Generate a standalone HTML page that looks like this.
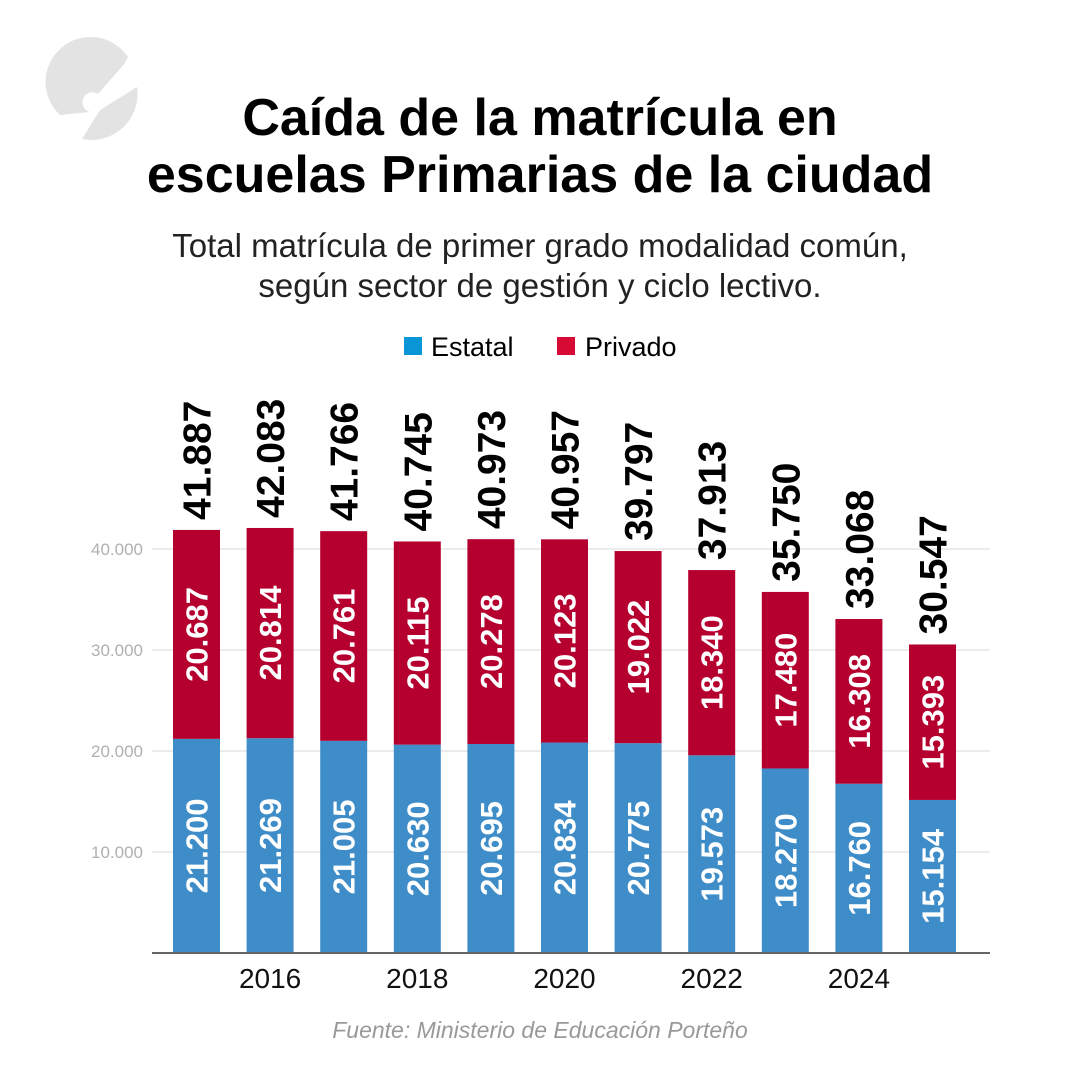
<!DOCTYPE html>
<html><head><meta charset="utf-8"><style>
html,body{margin:0;padding:0;background:#fff}
svg{display:block;font-family:"Liberation Sans",sans-serif}
</style></head><body>
<svg id="c" width="1081" height="1081" viewBox="0 0 1081 1081">
<g fill="#e3e3e3">
<path d="M128 57 A45 45 0 1 0 60 115 L90 112 A10 10 0 1 1 98 94 L125 63 Z"/>
<path d="M100 110 L137 87 A46 46 0 0 1 82 139 Z"/>
</g>
<text x="540" y="135" text-anchor="middle" font-size="52" font-weight="bold">Caída de la matrícula en</text>
<text x="540" y="192" text-anchor="middle" font-size="52" font-weight="bold">escuelas Primarias de la ciudad</text>
<text x="540" y="257" text-anchor="middle" font-size="33" fill="#222">Total matrícula de primer grado modalidad común,</text>
<text x="540" y="297" text-anchor="middle" font-size="33" fill="#222">según sector de gestión y ciclo lectivo.</text>
<g>
<rect x="404" y="337" width="18" height="18" fill="#0a96d6"/>
<text x="431" y="356" font-size="27">Estatal</text>
<rect x="557" y="337" width="18" height="18" fill="#d70a35"/>
<text x="585" y="356" font-size="27">Privado</text>
</g>
<g id="plot"></g>
<text x="540" y="1038" text-anchor="middle" font-size="23" font-style="italic" fill="#999">Fuente: Ministerio de Educación Porteño</text>
</svg>
<script>
const years=[2015,2016,2017,2018,2019,2020,2021,2022,2023,2024,2025];
const estatal=[21200,21269,21005,20630,20695,20834,20775,19573,18270,16760,15154];
const privado=[20687,20814,20761,20115,20278,20123,19022,18340,17480,16308,15393];
const yTicks=[10000,20000,30000,40000];
const xTickYears=[2016,2018,2020,2022,2024];
const NS="http://www.w3.org/2000/svg";
const g=document.getElementById('plot');
const y=v=>953-v*101/10000;
const x=yr=>196.5+(yr-2015)*73.6;
const bw=47;
const fmt=v=>String(v).replace(/\B(?=(\d{3})+(?!\d))/g,'.');
function mk(t,a,txt){const e=document.createElementNS(NS,t);for(const k in a)e.setAttribute(k,a[k]);if(txt!=null)e.textContent=txt;g.appendChild(e);return e;}
yTicks.forEach(t=>{
 const l=mk('line',{x1:152,x2:990,y1:y(t),y2:y(t),stroke:'#d8d8d8','stroke-width':1});
 
 
 const tx=mk('text',{x:143,y:y(t)+6,'text-anchor':'end','font-size':17,fill:'#b0b0b0'},fmt(t));
 
 
});
years.forEach((yr,i)=>{
 const cx=x(yr),e=estatal[i],p=privado[i],tot=e+p;
 const b1=mk('rect',{x:cx-bw/2,y:y(e),width:bw,height:953-y(e),fill:'#3f8dc8'});
 
 
 const b2=mk('rect',{x:cx-bw/2,y:y(tot),width:bw,height:y(e)-y(tot),fill:'#b5002f'});
 
 
 const my=(953+y(e))/2;
 const t1=mk('text',{x:0,y:0,transform:`translate(${cx+11},${my}) rotate(-90)`,'text-anchor':'middle','font-size':31,'font-weight':'bold',fill:'#fff'},fmt(e));
 
 
 const my2=(y(e)+y(tot))/2;
 const t2=mk('text',{x:0,y:0,transform:`translate(${cx+11},${my2}) rotate(-90)`,'text-anchor':'middle','font-size':31,'font-weight':'bold',fill:'#fff'},fmt(p));
 
 
 const t3=mk('text',{x:0,y:0,transform:`translate(${cx+14},${y(tot)-10}) rotate(-90)`,'text-anchor':'start','font-size':39,'font-weight':'bold',fill:'#000'},fmt(tot));
 
 
});
const ax=mk('line',{x1:152,x2:990,y1:953,y2:953,stroke:'#666','stroke-width':2});


xTickYears.forEach(yr=>{
 const t=mk('text',{x:x(yr),y:988,'text-anchor':'middle','font-size':28,fill:'#111'},String(yr));
 
 
});
</script>
</body></html>
